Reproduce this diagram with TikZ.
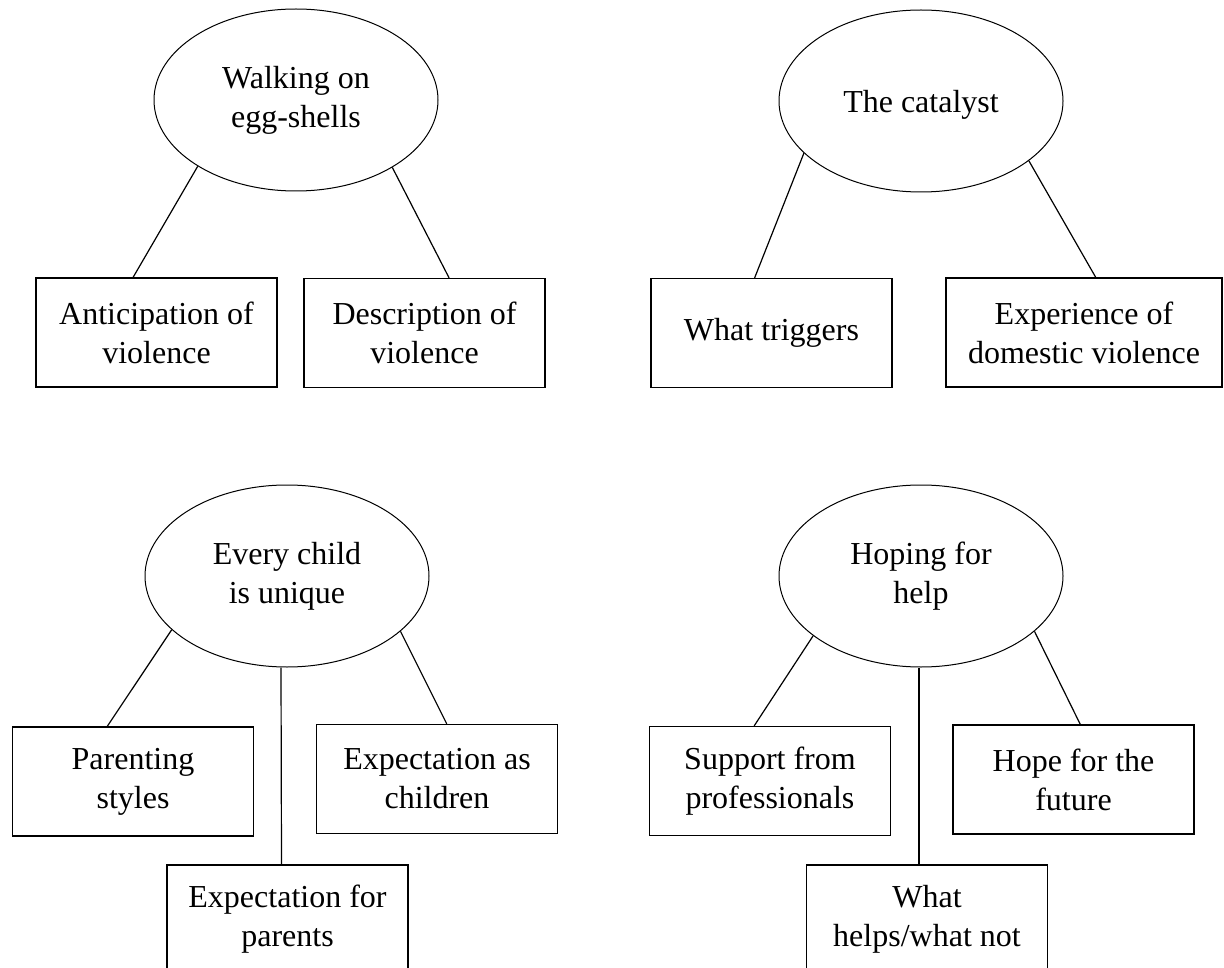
\documentclass[tikz,border=0pt]{standalone}
\usepackage{fontspec}
\setmainfont{Liberation Serif}
\usetikzlibrary{shapes.geometric}

\begin{document}
\begin{tikzpicture}[x=1pt,y=-1pt,
    theme/.style={ellipse,draw,line width=1pt,minimum width=284,minimum height=182,inner sep=0pt,align=center},
    subtheme/.style={rectangle,draw,line width=1.3pt,minimum width=241,minimum height=109,inner sep=0pt,align=center},
    link/.style={line width=1.2pt},
    font=\fontsize{32}{39}\selectfont]
    \useasboundingbox (0,0) rectangle (1224,968);
    \clip (0,0) rectangle (1224,968);

    % walking on egg-shells
    \node (walk) at (296,100) [theme] {Walking on\\egg-shells};
    \node (antic) at (156.5,332.5) [subtheme] {Anticipation of\\violence};
    \node (descr) at (424.5,333) [subtheme] {Description of\\violence};
    \draw[link] (walk.-146) -- (antic.113);
    \draw[link] (walk.-35) -- (descr.66);

    % the catalyst
    \node (cata) at (921,101) [theme,text depth=0pt] {The catalyst};
    \node (trig) at (771.5,333) [subtheme] {What triggers};
    \node (expdv) at (1084,332.5) [subtheme,minimum width=276] {Experience of\\domestic violence};
    \draw[link] (cata.-156) -- (trig.107);
    \draw[link] (cata.-29) -- (expdv.78);

    % every child is unique
    \node (child) at (287,576) [theme] {Every child\\is unique};
    \node (parent) at (133,781.5) [subtheme] {Parenting\\styles};
    \node (expch) at (437,779) [subtheme] {Expectation as\\children};
    \node (expfor) at (287.5,919.5) [subtheme] {Expectation for\\parents};
    \draw[link] (child.-155) -- (parent.115);
    \draw[link] (child.-26) -- (expch.80);
    \draw[link] ([xshift=-6pt]child.south) -- ([xshift=-6pt]expfor.north);

    % hoping for help
    \node (help) at (921,576) [theme] {Hoping for\\help};
    \node (supp) at (770,781) [subtheme] {Support from\\professionals};
    \node (hope) at (1073.5,779.5) [subtheme] {Hope for the\\future};
    \node (whatnot) at (927,919.5) [subtheme] {What\\helps/what not};
    \draw[link] (help.-151) -- (supp.106);
    \draw[link] (help.-26) -- (hope.83);
    \draw[link] ([xshift=-2pt]help.south) -- ([xshift=-8pt]whatnot.north);

\end{tikzpicture}
\end{document}
